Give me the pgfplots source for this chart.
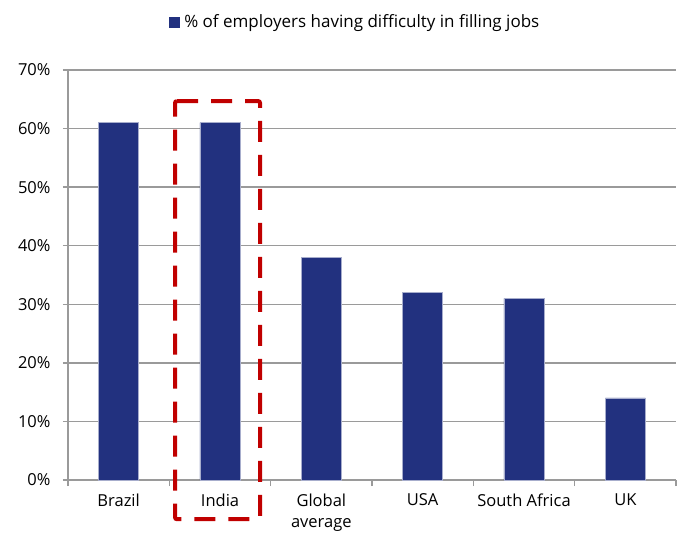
\documentclass[border=0pt]{standalone}
\usepackage{pgfplots}
\pgfplotsset{compat=1.18}
\usepackage{fontspec}
\setmainfont{Open Sans}
\definecolor{barblue}{HTML}{22317F}
\definecolor{gridgray}{HTML}{9A9A9A}
\definecolor{dashred}{HTML}{C00000}
\begin{document}
\begin{tikzpicture}
\useasboundingbox (-68bp,-53bp) rectangle (610bp,480bp);
\begin{axis}[
  at={(0,0)}, anchor=south west,
  scale only axis, width=608bp, height=410bp,
  ymin=0, ymax=70, xmin=-0.5, xmax=5.5,
  ytick={0,10,...,70},
  yticklabel={\pgfmathprintnumber{\tick}\%},
  /pgf/number format/assume math mode=true,
  xtick={0,...,5},
  xticklabels={Brazil,India,{Global\\average},USA,South Africa,UK},
  minor xtick={-0.5,0.5,...,5.5},
  major x tick style={draw=none},
  minor x tick style={gridgray, line width=1.5bp},
  y tick style={gridgray, line width=1.5bp},
  tick align=outside,
  major tick length=5bp, minor tick length=6bp,
  xticklabel style={align=center, font=\fontsize{16.5bp}{21bp}\selectfont, yshift=-5bp},
  yticklabel style={font=\fontsize{16.5bp}{21bp}\selectfont, xshift=-9bp},
  axis x line*=bottom, axis y line*=left,
  axis line style={gridgray, line width=1.5bp, -},
  ymajorgrids,
  major grid style={gridgray, line width=1.5bp},
  clip=false,
  legend style={at={(0.472,1.117)}, anchor=center, draw=none, fill=none,
    font=\fontsize{17bp}{21bp}\selectfont},
  legend image code/.code={\fill[barblue] (0bp,-5bp) rectangle (10bp,5bp);},
]
\addplot[ybar, bar width=40bp, fill=barblue, draw=barblue!40, line width=0.6bp]
  coordinates {(0,61) (1,61) (2,38) (3,32) (4,31) (5,14)};
\addlegendentry{\hspace{3bp}\% of employers having difficulty in filling jobs}
\draw[dashred, line width=4bp, dash pattern=on 21bp off 13bp, rounded corners=2bp]
  (axis cs:0.556,64.7) -- (axis cs:1.395,64.7) -- (axis cs:1.395,-6.7) -- (axis cs:0.556,-6.7) -- cycle;
\end{axis}
\end{tikzpicture}
\end{document}
